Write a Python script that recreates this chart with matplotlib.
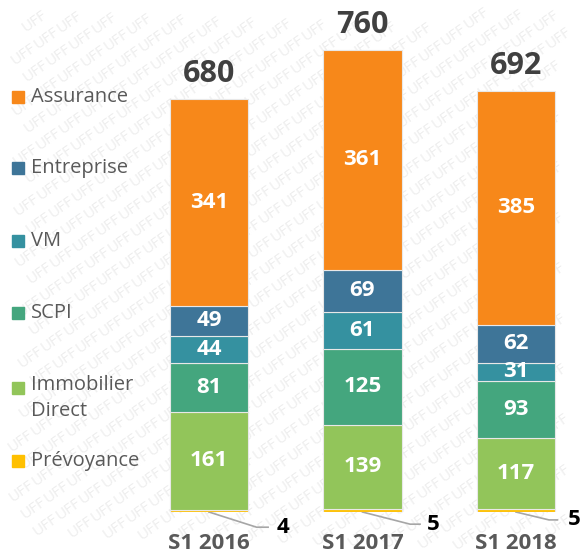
import matplotlib.pyplot as plt
import numpy as np

# donnees
annees = ["S1 2016", "S1 2017", "S1 2018"]
prevoyance = [4, 5, 5]
immobilier = [161, 139, 117]
scpi = [81, 125, 93]
vm = [44, 61, 31]
entreprise = [49, 69, 62]
assurance = [341, 361, 385]
totaux = [680, 760, 692]

series = [
    ("Prévoyance", prevoyance, "#FFC000"),
    ("Immobilier\nDirect", immobilier, "#92C55A"),
    ("SCPI", scpi, "#44A67E"),
    ("VM", vm, "#3591A0"),
    ("Entreprise", entreprise, "#3E7598"),
    ("Assurance", assurance, "#F7881A"),
]

plt.rcParams['font.family'] = ['Open Sans', 'DejaVu Sans']

W, H = 580, 558
fig = plt.figure(figsize=(5.8, 5.58), dpi=100)

# filigrane "UFF" en fond
bg = fig.add_axes([0, 0, 1, 1], zorder=-1)
bg.set_xlim(0, W)
bg.set_ylim(0, H)
bg.axis("off")
ang = np.deg2rad(35)
d = np.array([np.cos(ang), np.sin(ang)])
n = np.array([-np.sin(ang), np.cos(ang)])
for k in range(-40, 40):
    for j in range(-40, 40):
        px, py = j * 28 * d + k * 21 * n
        if 20 < px < W - 20 and 18 < py < H - 18:
            bg.text(px, py, "UFF", rotation=35, fontsize=11, color="#eeeeee",
                    ha="center", va="center", rotation_mode="anchor")

ax = fig.add_axes([0.2148, 0.0824, 0.7807, 0.871], zorder=1)
ax.patch.set_alpha(0)

x = np.arange(len(annees))
bas = np.zeros(len(annees))
for nom, vals, couleur in series:
    ax.bar(x, vals, 0.51, bottom=bas, color=couleur, edgecolor="#e8e8e8",
           linewidth=0.8, zorder=2)
    if nom != "Prévoyance":
        for i, v in enumerate(vals):
            ax.text(x[i], bas[i] + v / 2, str(v), ha="center", va="center",
                    color="white", fontsize=16, fontweight="bold", zorder=3)
    bas += np.array(vals)

# totaux au dessus des barres
for i, t in enumerate(totaux):
    ax.annotate(str(t), (x[i], bas[i]), xytext=(0, 18), textcoords="offset points",
                ha="center", va="center", fontsize=22, fontweight="bold", color="#404040")

# etiquettes prevoyance avec trait de rappel
rappels = [(0.31, 0.385, 0.48, -25), (0.31, 0.375, 0.46, -20), (0.215, 0.27, 0.38, -13)]
for i, (xc, xe, xl, yl) in enumerate(rappels):
    ax.plot([x[i], x[i] + xc, x[i] + xe], [0, yl, yl], color="#a6a6a6",
            linewidth=1.2, clip_on=False, zorder=1)
    ax.text(x[i] + xl, yl, str(prevoyance[i]), ha="center", va="center",
            fontsize=16, fontweight="bold", color="black", clip_on=False)

ax.set_xlim(-0.55, 2.4)
ax.set_ylim(0, 800)
ax.set_xticks(x)
ax.set_xticklabels(annees, fontsize=16, fontweight="bold", color="#595959")
ax.tick_params(axis="x", length=0, pad=15)
ax.set_yticks([])
for s in ax.spines.values():
    s.set_visible(False)

# legende a gauche
leg_y = [97, 168, 241, 313, 388, 461]
for (nom, vals, couleur), yy in zip(series[::-1], leg_y):
    fy = 1 - yy / H
    fig.patches.append(plt.Rectangle((12 / W, fy - 6 / H), 12 / W, 12 / H,
                                     transform=fig.transFigure, color=couleur))
    if "\n" in nom:
        fig.text(31 / W, fy + 13 / H, nom, ha="left", va="top", fontsize=14.5,
                 color="#595959", linespacing=1.4)
    else:
        fig.text(31 / W, fy, nom, ha="left", va="center", fontsize=14.5, color="#595959")

fig.savefig("out.png", dpi=100)
